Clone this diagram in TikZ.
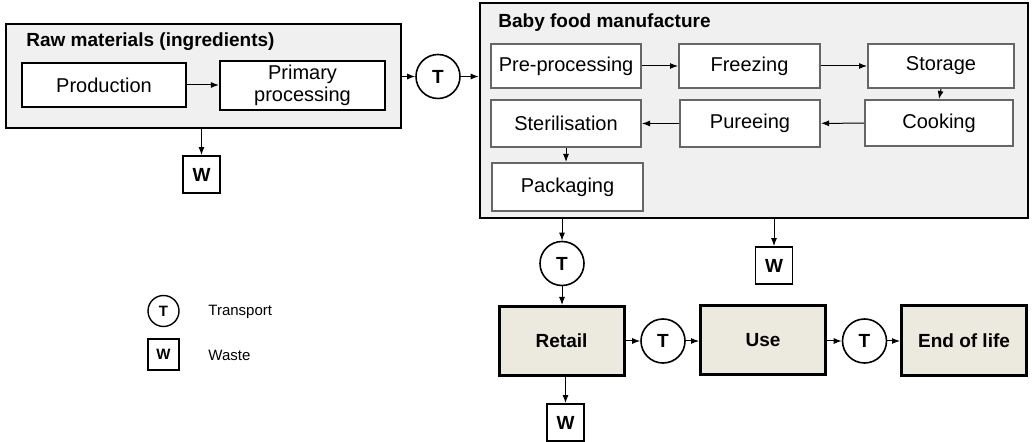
\documentclass[tikz,border=0pt]{standalone}
\usepackage{fontspec}
\setmainfont{Liberation Sans}
\usetikzlibrary{arrows.meta}
\definecolor{boxgray}{HTML}{F0F0F0}
\definecolor{stagefill}{HTML}{ECE9DF}
\definecolor{edgegray}{HTML}{666666}
\begin{document}
\begin{tikzpicture}[x=0.5pt,y=-0.5pt,
		container/.style={draw,line width=1.3pt,fill=boxgray,inner sep=0pt},
		rawbox/.style={draw,line width=1.1pt,fill=white,inner sep=0pt,align=center,font=\fontsize{10}{11}\selectfont},
		procbox/.style={draw=edgegray,line width=1pt,fill=white,inner sep=0pt,font=\fontsize{10}{11}\selectfont},
		stagebox/.style={draw,line width=1.5pt,fill=stagefill,inner sep=0pt,minimum width=62.5pt,minimum height=34.5pt,font=\bfseries\fontsize{9.5}{11}\selectfont},
		tcirc/.style={circle,draw,line width=0.8pt,fill=white,inner sep=0pt,minimum size=22pt,font=\bfseries\fontsize{9.5}{11}\selectfont},
		wbox/.style={draw,line width=0.9pt,fill=white,inner sep=0pt,minimum size=18.5pt,font=\bfseries\fontsize{9.5}{11}\selectfont},
		boxtitle/.style={anchor=west,inner sep=0pt,font=\bfseries\fontsize{9.5}{11}\selectfont},
		arr/.style={-{Latex[length=4pt,width=3pt]},line width=0.5pt}]
	\useasboundingbox (0,0) rectangle (1036,442);
	% raw materials
	\node[container,minimum width=197.5pt,minimum height=52pt] (raw) at (203.5,76) {};
	\node[boxtitle] (rawtitle) at (26,42) {Raw materials (ingredients)};
	\node[rawbox,minimum width=82pt,minimum height=22pt] (prod) at (104,85) {Production};
	\node[rawbox,minimum width=82.5pt,minimum height=24.5pt] (prim) at (302.5,85.5) {Primary\\processing};
	\node[wbox] (wraw) at (201.5,174.5) {W};
	% manufacture
	\node[container,minimum width=274pt,minimum height=107.5pt] (baby) at (754,110.5) {};
	\node[boxtitle] (babytitle) at (498,23) {Baby food manufacture};
	\foreach \name/\x/\y/\w/\h/\txt in {pre/566/66/75/22/Pre-processing,
			frz/749.5/66/70.5/22/Freezing,
			sto/941/66/73/22/Storage,
			coo/939/123/74/23/Cooking,
			pur/750/123.5/70/23.5/Pureeing,
			ste/566/123.5/75/23.5/Sterilisation,
			pac/567.5/187/75.5/24/Packaging}{
			\node[procbox,minimum width=\w pt,minimum height=\h pt] (\name) at (\x,\y) {\txt};
		}
	\node[tcirc] (t1) at (438,76.5) {T};
	\node[tcirc] (t2) at (562,263.5) {T};
	\node[wbox] (wbaby) at (774,265.5) {W};
	% later stages
	\node[stagebox] (retail) at (561.5,341) {Retail};
	\node[tcirc] (t3) at (663,341) {T};
	\node[stagebox] (use) at (763,340) {Use};
	\node[tcirc] (t4) at (864.5,341) {T};
	\node[stagebox] (eol) at (964,340.5) {End of life};
	\node[wbox] (wret) at (565.5,422.5) {W};
	% legend
	\node[tcirc,minimum size=15.5pt,line width=0.7pt,font=\bfseries\fontsize{7.5}{9}\selectfont] (legt) at (163.5,311) {T};
	\node[wbox,minimum size=15.5pt,line width=0.7pt,font=\bfseries\fontsize{7.5}{9}\selectfont] (legw) at (163.5,354.5) {W};
	\node[anchor=west,inner sep=0pt,font=\fontsize{7.5}{9}\selectfont] (legttxt) at (208,312) {Transport};
	\node[anchor=west,inner sep=0pt,font=\fontsize{7.5}{9}\selectfont] (legwtxt) at (208,355) {Waste};
	% flows
	\draw[arr] (prod.east) -- (prod.east -| prim.west);
	\draw[arr] (raw.south -| wraw) -- (wraw);
	\draw[arr] (raw.east |- t1) -- (t1);
	\draw[arr] (t1) -- (t1 -| baby.west);
	\draw[arr] (pre) -- (frz);
	\draw[arr] (frz) -- (sto);
	\draw[arr] (sto.south) -- (coo.north);
	\draw[arr] (coo) -- (pur);
	\draw[arr] (pur) -- (ste);
	\draw[arr] (ste.south) -- (ste.south |- pac.north);
	\draw[arr] (baby.south -| t2) -- (t2);
	\draw[arr] (baby.south -| wbaby) -- (wbaby);
	\draw[arr] (t2) -- (t2 |- retail.north);
	\draw[arr] (retail.south -| wret) -- (wret);
	\draw[arr] (retail) -- (t3);
	\draw[arr] (t3) -- (t3 -| use.west);
	\draw[arr] (use.east |- t4) -- (t4);
	\draw[arr] (t4) -- (t4 -| eol.west);
\end{tikzpicture}
\end{document}
